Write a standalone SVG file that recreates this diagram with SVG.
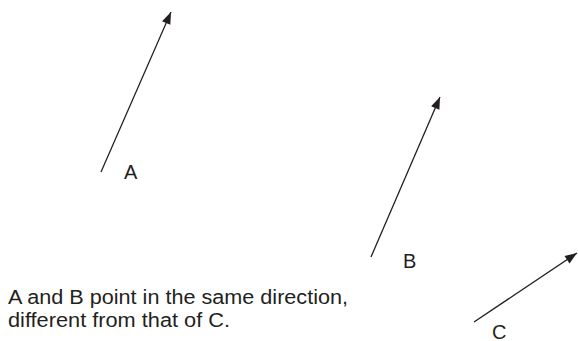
<svg xmlns="http://www.w3.org/2000/svg" width="578" height="341" viewBox="0 0 578 341">
<style>
.lbl{font-family:"Liberation Sans",Arial,Helvetica,sans-serif;font-size:20px;fill:#231f20}
.vec{stroke:#231f20;stroke-width:1.3;fill:none}
</style>
<defs>
<marker id="ah" markerUnits="userSpaceOnUse" markerWidth="13" markerHeight="10" refX="12" refY="4.5" orient="auto" overflow="visible">
<path d="M0,0 L12,4.5 L0,9 z" fill="#231f20"/>
</marker>
</defs>
<rect width="578" height="341" fill="#fff"/>
<g id="connectors">
<line class="vec" x1="101" y1="172" x2="171" y2="12" marker-end="url(#ah)"/>
<line class="vec" x1="371" y1="257" x2="440" y2="97" marker-end="url(#ah)"/>
<line class="vec" x1="474" y1="322" x2="577" y2="253" marker-end="url(#ah)"/>
</g>
<g id="labelA"><text class="lbl" x="124" y="179">A</text></g>
<g id="labelB"><text class="lbl" x="403" y="268">B</text></g>
<g id="labelC"><text class="lbl" x="492" y="338.5">C</text></g>
<g id="caption">
<text class="lbl" x="8" y="304" textLength="340" lengthAdjust="spacingAndGlyphs">A and B point in the same direction,</text>
<text class="lbl" x="8" y="327" textLength="222" lengthAdjust="spacingAndGlyphs">different from that of C.</text>
</g>
</svg>
